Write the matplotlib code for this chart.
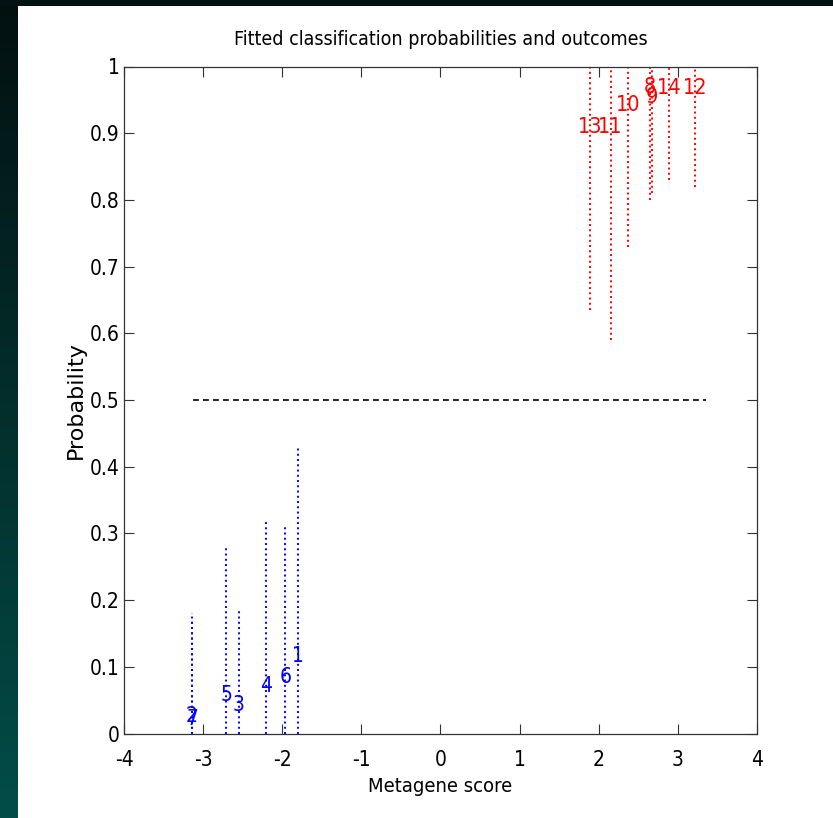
import numpy as np
import matplotlib
matplotlib.use("Agg")
import matplotlib.pyplot as plt
from matplotlib import font_manager as fm
from matplotlib.colors import LinearSegmentedColormap

# Data: sample id, metagene score, fitted probability, interval end
blue_ids = ["1", "2", "3", "4", "5", "6", "7"]
blue_scores = [-1.80, -3.14, -2.55, -2.21, -2.71, -1.96, -3.14]
blue_prob = [0.116, 0.026, 0.042, 0.071, 0.057, 0.084, 0.022]
blue_upper = [0.43, 0.18, 0.185, 0.32, 0.28, 0.31, 0.17]

red_ids = ["8", "9", "10", "11", "12", "13", "14"]
red_scores = [2.65, 2.67, 2.37, 2.15, 3.22, 1.89, 2.89]
red_prob = [0.970, 0.955, 0.942, 0.910, 0.968, 0.910, 0.968]
red_lower = [0.80, 0.81, 0.73, 0.59, 0.82, 0.635, 0.83]

thresh_x = [-3.13, 3.35]
thresh_y = [0.5, 0.5]

xticks = [-4, -3, -2, -1, 0, 1, 2, 3, 4]
yticks = [0, 0.1, 0.2, 0.3, 0.4, 0.5, 0.6, 0.7, 0.8, 0.9, 1]
ytick_labels = ["0", "0.1", "0.2", "0.3", "0.4", "0.5", "0.6", "0.7", "0.8", "0.9", "1"]

cond = [f for f in fm.fontManager.ttflist if 'ondensed' in f.fname or 'arrow' in f.fname]
fam = cond[0].name if cond else 'DejaVu Sans'
plt.rcParams['font.family'] = [fam, 'DejaVu Sans']
plt.rcParams['font.stretch'] = 'condensed'

W, H = 833, 818
fig = plt.figure(figsize=(W / 100, H / 100), dpi=100, facecolor="white")

# dark frame: left gradient strip and top strip
strip = fig.add_axes([0, 0, 18 / W, 1])
grad = np.linspace(0, 1, 256).reshape(-1, 1)
cmap = LinearSegmentedColormap.from_list("bg", ["#021010", "#034d48"])
strip.imshow(grad, aspect="auto", cmap=cmap, origin="upper", extent=[0, 1, 0, 1])
strip.set_axis_off()
top = fig.add_axes([0, 1 - 6 / H, 1, 6 / H])
top.set_facecolor("#031212")
top.set_xticks([]); top.set_yticks([])
for s in top.spines.values():
    s.set_visible(False)

ax = fig.add_axes([124 / W, 1 - 733.5 / H, (757 - 124) / W, (733.5 - 66.5) / H])
dot = (0, (1.0, 1.7))
for x, p, u, lab in zip(blue_scores, blue_prob, blue_upper, blue_ids):
    ax.plot([x, x], [0, u], color="blue", linestyle=dot, linewidth=1.4)
    ax.text(x, p, lab, color="blue", ha="center", va="center", fontsize=15)
for x, p, l, lab in zip(red_scores, red_prob, red_lower, red_ids):
    ax.plot([x, x], [l, 1], color="red", linestyle=dot, linewidth=1.4)
    ax.text(x, p, lab, color="red", ha="center", va="center", fontsize=15.5)

ax.plot(thresh_x, thresh_y, color="black", linestyle=(0, (3.5, 2.5)), linewidth=1.2)

ax.set_xlim(-4, 4)
ax.set_ylim(0, 1)
ax.set_xticks(xticks)
ax.set_xticklabels([str(t) for t in xticks])
ax.set_yticks(yticks)
ax.set_yticklabels(ytick_labels)
ax.tick_params(direction="in", length=7, width=0.8, top=True, right=True,
               labelsize=15, color="#333333")
ax.tick_params(axis="y", pad=3)
ax.tick_params(axis="x", pad=12)
for s in ax.spines.values():
    s.set_linewidth(0.9)
    s.set_color("#333333")
ax.set_title("Fitted classification probabilities and outcomes", fontsize=14, pad=15.5)
ax.set_xlabel("Metagene score", fontsize=14.5, labelpad=5)
ax.set_ylabel("Probability", fontsize=16, labelpad=3,
              family=['DejaVu Sans'], stretch='normal')

fig.savefig("out.png", dpi=100, facecolor="white")
